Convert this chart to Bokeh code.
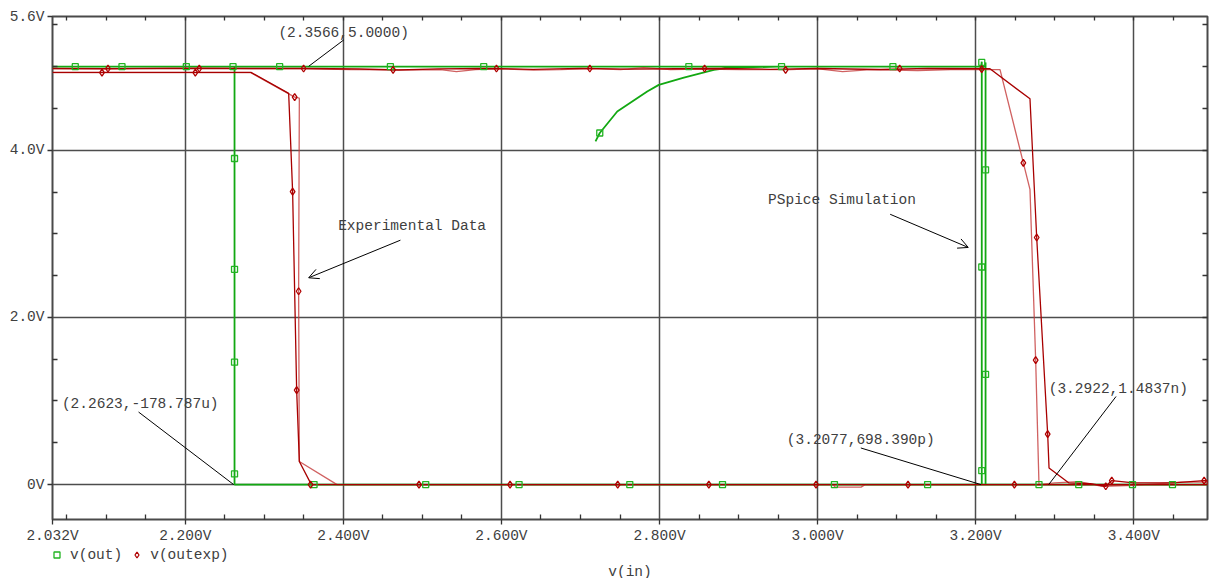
from bokeh.plotting import figure
from bokeh.layouts import column
from bokeh.models import (LinearAxis, FixedTicker, Range1d, Label, Arrow,
                          OpenHead, Legend, LegendItem)
from bokeh.embed import file_html
from bokeh.resources import INLINE

FONT = "Liberation Mono"
FS = "14.5px"
TXT = "#404040"

# ---------------- axis ticks ----------------
x_major = [2.032, 2.2, 2.4, 2.6, 2.8, 3.0, 3.2, 3.4]
x_major_labels = ["2.032V", "2.200V", "2.400V", "2.600V", "2.800V",
                  "3.000V", "3.200V", "3.400V"]
x_minor = [2.05, 2.10, 2.15, 2.25, 2.30, 2.35, 2.45, 2.50, 2.55, 2.65, 2.70,
           2.75, 2.85, 2.90, 2.95, 3.05, 3.10, 3.15, 3.25, 3.30, 3.35, 3.45]
x_grid = [2.2, 2.4, 2.6, 2.8, 3.0, 3.2, 3.4]
y_major = [0.0, 2.0, 4.0, 5.6]
y_major_labels = ["0V", "2.0V", "4.0V", "5.6V"]
y_minor = [0.5, 1.0, 1.5, 2.5, 3.0, 3.5, 4.5, 5.0, 5.5]
y_grid = [0.0, 2.0, 4.0]
x_lim = [2.032, 3.4933]
y_lim = [-0.4177, 5.6]
x_title = "v(in)"
series_names = ["v(out)", "v(outexp)"]

# ---------------- v(out) : PSpice simulation ----------------
out_x = [2.7190, 2.7244, 2.7465, 2.7844, 2.7991, 2.8308, 2.8687, 2.8899, 2.9500,
         3.2070, 3.2077, 3.2077, 3.4933, 2.2623, 2.2623, 2.0320, 3.2118, 3.2125,
         3.2125, 3.4933]
out_y = [4.107, 4.206, 4.464, 4.702, 4.782, 4.869, 4.961, 4.988, 5.000,
         5.000, 5.060, 0.000, 0.000, 0.000, 5.000, 5.000, 5.000, 5.050,
         0.000, 0.000]
out_mk_x = [2.0608, 2.1199, 2.2013, 2.2604, 2.3194, 2.4595, 2.5776, 2.8371, 2.9544,
            3.0953, 2.2623, 2.2623, 2.2623, 2.2623, 2.7244, 2.3629, 2.5042, 2.6223,
            2.7624, 2.8797, 3.0213, 3.1392, 3.2801, 3.3304, 3.3984, 3.4490, 3.2077,
            3.2125, 3.2077, 3.2125, 3.2077]
out_mk_y = [5.0, 5.0, 5.0, 5.0, 5.0, 5.0, 5.0, 5.0, 5.0,
            5.0, 3.901, 2.575, 1.464, 0.127, 4.206, 0.0, 0.0, 0.0,
            0.0, 0.0, 0.0, 0.0, 0.0, 0.0, 0.0, 0.0, 5.050,
            3.766, 2.603, 1.318, 0.167]

# ---------------- v(outexp) : experimental data ----------------
exp1_x = [2.032, 2.10, 2.18, 2.26, 2.35, 2.42, 2.47, 2.52, 2.58, 2.64, 2.70, 2.76,
          2.82, 2.88, 2.94, 3.00, 3.04, 3.08, 3.14, 3.2181, 3.2687, 3.2772, 3.2911,
          3.2928, 3.318, 3.345, 3.3646, 3.3722, 3.40, 3.45, 3.489, 3.4933, 3.4933,
          2.3595, 2.3443, 2.3409, 2.3358, 2.3308, 2.283, 2.032]
exp1_y = [4.978, 4.975, 4.980, 4.978, 4.978, 4.972, 4.960, 4.974, 4.978, 4.968,
          4.980, 4.970, 4.975, 4.978, 4.968, 4.978, 4.972, 4.966, 4.978, 4.975,
          4.615, 2.956, 0.603, 0.198, 0.020, 0.010, -0.020, 0.048, 0.020, 0.020,
          0.048, 0.050, 0.000, 0.000, 0.277, 1.131, 3.504, 4.680, 4.932, 4.932]
exp2_x = [2.032, 2.283, 2.3384, 2.3443, 2.3434, 2.3443, 2.392, 3.020, 3.022, 3.055,
          3.060, 3.4933, 3.4933, 3.46, 3.40, 3.36, 3.3304, 3.30, 3.2801, 3.2759,
          3.2687, 3.2603, 3.2308, 3.1684, 3.1266, 3.0671, 3.0316, 2.9987, 2.9658,
          2.9025, 2.8519, 2.8139, 2.7797, 2.7506, 2.7127, 2.6747, 2.6405, 2.5987,
          2.5671, 2.543, 2.5228, 2.4924, 2.4089, 2.3456, 2.2823, 2.219, 2.1177, 2.032]
exp2_y = [4.928, 4.928, 4.635, 4.623, 2.313, 0.277, 0.000, 0.000, -0.030, -0.030,
          0.000, 0.000, 0.030, 0.030, -0.010, -0.020, 0.035, 0.020, 0.000, 1.488,
          3.532, 3.849, 4.964, 4.964, 4.952, 4.964, 4.940, 4.976, 4.964,
          4.964, 4.970, 4.964, 4.988, 4.964, 4.976, 4.964, 4.958, 4.976,
          4.964, 4.940, 4.964, 4.961, 4.964, 4.976, 4.976, 4.982, 4.976, 4.976]
exp_mk_x = [2.1022, 2.2177, 2.3497, 2.5937, 2.7118, 2.8570, 3.1038, 2.4629, 2.9595,
            3.2076, 2.0946, 2.2127, 2.3384, 2.3358, 2.3434, 2.3409, 2.3585, 2.4957,
            2.6109, 2.7471, 2.8624, 2.9980, 3.1144, 3.2490, 3.2603, 3.2772, 3.2759,
            3.2911, 3.3722, 3.3646, 3.4890]
exp_mk_y = [4.978, 4.978, 4.978, 4.978, 4.978, 4.978, 4.978, 4.962, 4.962,
            4.970, 4.928, 4.928, 4.635, 3.504, 2.313, 1.131, 0.000, 0.000,
            0.000, 0.000, 0.000, 0.000, 0.000, 0.000, 3.849, 2.956, 1.488,
            0.603, 0.048, -0.020, 0.048]

GREEN = "#12a812"
GREEN_MK = "#22b422"
RED = "#a80000"
RED2 = "#c43a3a"
RED_MK = "#b00000"

# ================= main plot =================
p = figure(width=1209, height=546,
           x_range=Range1d(x_lim[0], x_lim[1]), y_range=Range1d(y_lim[0], y_lim[1]),
           output_backend="svg", toolbar_location=None,
           min_border_left=52, min_border_right=2, min_border_top=16,
           min_border_bottom=26)
p.background_fill_color = "white"
p.border_fill_color = "white"
p.outline_line_color = "#4a4a4a"
p.outline_line_width = 2

p.xgrid.ticker = FixedTicker(ticks=x_grid)
p.ygrid.ticker = FixedTicker(ticks=y_grid)
p.xgrid.grid_line_color = "#4d4d4d"
p.ygrid.grid_line_color = "#4d4d4d"
p.xgrid.grid_line_width = 1.5
p.ygrid.grid_line_width = 1.5


def style(ax):
    ax.axis_line_color = None
    ax.major_tick_line_color = "#333333"
    ax.minor_tick_line_color = "#333333"
    ax.major_tick_line_width = 1.3
    ax.minor_tick_line_width = 1.3
    ax.major_label_text_font = FONT
    ax.major_label_text_font_size = FS
    ax.major_label_text_color = TXT


xa = p.xaxis[0]
xa.ticker = FixedTicker(ticks=x_major, minor_ticks=x_minor)
xa.major_label_overrides = {t: l for t, l in zip(x_major, x_major_labels)}
style(xa)
xa.major_tick_out = 5
xa.major_tick_in = 0
xa.minor_tick_out = 0
xa.minor_tick_in = 5
xa.major_label_standoff = 3

ya = p.yaxis[0]
ya.ticker = FixedTicker(ticks=y_major, minor_ticks=y_minor)
ya.major_label_overrides = {t: l for t, l in zip(y_major, y_major_labels)}
style(ya)
ya.major_tick_out = 5
ya.major_tick_in = 0
ya.minor_tick_out = 0
ya.minor_tick_in = 5
ya.major_label_standoff = 3

top = LinearAxis(ticker=FixedTicker(ticks=[], minor_ticks=x_minor + x_grid))
style(top)
top.major_tick_in = 0
top.major_tick_out = 0
top.minor_tick_in = 4
top.minor_tick_out = 0
top.major_label_standoff = 0
p.add_layout(top, "above")

right = LinearAxis(ticker=FixedTicker(ticks=[], minor_ticks=y_minor + [2.0, 4.0]))
style(right)
right.major_tick_in = 0
right.major_tick_out = 0
right.minor_tick_in = 5
right.minor_tick_out = 0
right.major_label_standoff = 0
p.add_layout(right, "right")

p.line(out_x, out_y, line_color=GREEN, line_width=1.8)
p.line(exp2_x, exp2_y, line_color=RED2, line_width=1.3, line_alpha=0.8)
p.line(exp1_x, exp1_y, line_color=RED, line_width=1.3)
p.scatter(out_mk_x, out_mk_y, marker="square", size=6, line_color=GREEN_MK,
          line_width=1.3, fill_color=None)
p.scatter(exp_mk_x, exp_mk_y, marker="diamond", size=7, line_color=RED_MK,
          line_width=1.3, fill_color=None)

labels = [
    ("(2.3566,5.0000)", 2.3178, 5.406),
    ("(2.2623,-178.787u)", 2.0439, 0.967),
    ("Experimental Data", 2.3934, 3.091),
    ("PSpice Simulation", 2.9373, 3.409),
    ("(3.2077,698.390p)", 2.9610, 0.529),
    ("(3.2922,1.4837n)", 3.2924, 1.146),
]
for t, x, y in labels:
    p.add_layout(Label(x=x, y=y, text=t, text_font=FONT, text_font_size=FS,
                       text_color=TXT, text_baseline="middle",
                       text_align="left"))

leaders = [
    (2.4004, 5.319, 2.3561, 5.004),
    (2.1409, 0.868, 2.2612, 0.000),
    (3.0547, 0.438, 3.2066, 0.000),
    (3.3776, 1.054, 3.2924, 0.000),
]
for x0, y0, x1, y1 in leaders:
    p.add_layout(Arrow(x_start=x0, y_start=y0, x_end=x1, y_end=y1, end=None,
                       line_color="black", line_width=1))
arrows = [
    (2.4722, 2.924, 2.3561, 2.474),
    (3.0918, 3.234, 3.1906, 2.837),
]
for x0, y0, x1, y1 in arrows:
    p.add_layout(Arrow(x_start=x0, y_start=y0, x_end=x1, y_end=y1,
                       end=OpenHead(size=10, line_color="black", line_width=1),
                       line_color="black", line_width=1))

# ================= legend + axis title strip =================
# its frame is aligned with the main frame (page x 52 .. 1207)
q = figure(width=1209, height=32, x_range=Range1d(52, 1207), y_range=Range1d(0, 32),
           output_backend="svg", toolbar_location=None,
           x_axis_type=None, y_axis_type=None, min_border=0)
q.outline_line_color = None
q.background_fill_color = "white"
q.border_fill_color = "white"
# legend proxies: the series' own markers (they fall outside this strip's view)
lg_g = q.scatter(out_mk_x, out_mk_y, marker="square", size=6, line_color=GREEN_MK,
                 line_width=1.3, fill_color=None)
lg_r = q.scatter(exp_mk_x, exp_mk_y, marker="diamond", size=7, line_color=RED_MK,
                 line_width=1.3, fill_color=None)
legend = Legend(items=[LegendItem(label=series_names[0], renderers=[lg_g]),
                       LegendItem(label=series_names[1], renderers=[lg_r])],
                orientation="horizontal", location=(-3, 15.5),
                padding=0, margin=0, spacing=7, label_standoff=6,
                glyph_width=15, glyph_height=15, label_height=15,
                label_text_font=FONT, label_text_font_size=FS,
                label_text_color=TXT, border_line_alpha=0,
                background_fill_alpha=0)
q.add_layout(legend)
q.add_layout(Label(x=629.5, y=7, text=x_title, text_font=FONT, text_font_size=FS,
                   text_color=TXT, text_align="center", text_baseline="middle"))

open("out.html", "w").write(file_html(column(p, q, spacing=0), INLINE))
